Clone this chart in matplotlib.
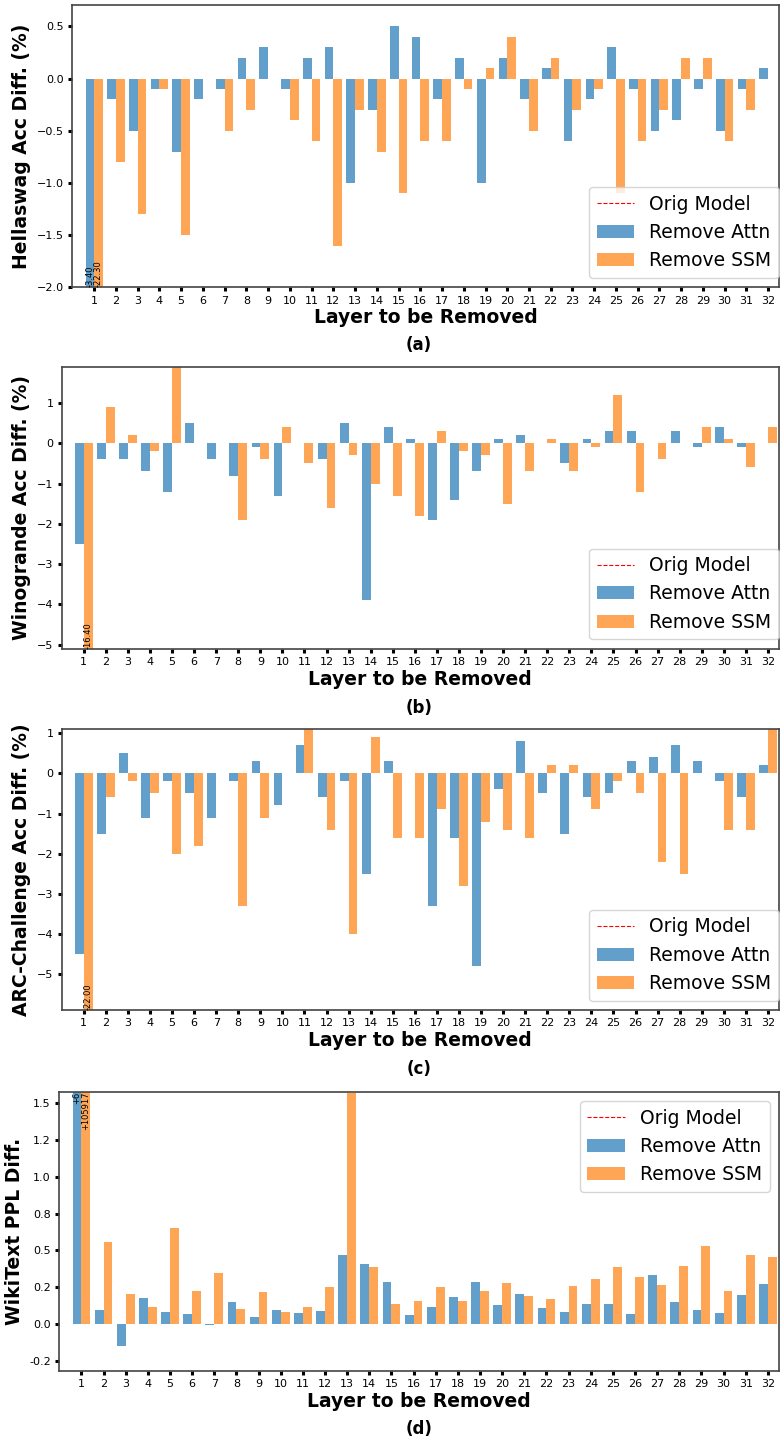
import numpy as np
import matplotlib
matplotlib.use("Agg")
import matplotlib.pyplot as plt
from matplotlib.ticker import MultipleLocator, FormatStrFormatter

layers = list(range(1, 33))

# Hellaswag acc diff (%)
hs_attn = [-3.40, -0.2, -0.5, -0.1, -0.7, -0.2, -0.1, 0.2, 0.3, -0.1, 0.2, 0.3, -1.0, -0.3, 0.5, 0.4,
           -0.2, 0.2, -1.0, 0.2, -0.2, 0.1, -0.6, -0.2, 0.3, -0.1, -0.5, -0.4, -0.1, -0.5, -0.1, 0.1]
hs_ssm = [-22.30, -0.8, -1.3, -0.1, -1.5, 0.0, -0.5, -0.3, 0.0, -0.4, -0.6, -1.6, -0.3, -0.7, -1.1, -0.6,
          -0.6, -0.1, 0.1, 0.4, -0.5, 0.2, -0.3, -0.1, -1.1, -0.6, -0.3, 0.2, 0.2, -0.6, -0.3, 0.0]

# Winogrande acc diff (%)
wg_attn = [-2.5, -0.4, -0.4, -0.7, -1.2, 0.5, -0.4, -0.8, -0.1, -1.3, 0.0, -0.4, 0.5, -3.9, 0.4, 0.1,
           -1.9, -1.4, -0.7, 0.1, 0.2, 0.0, -0.5, 0.1, 0.3, 0.3, 0.0, 0.3, -0.1, 0.4, -0.1, 0.0]
wg_ssm = [-16.40, 0.9, 0.2, -0.2, 2.0, 0.0, 0.0, -1.9, -0.4, 0.4, -0.5, -1.6, -0.3, -1.0, -1.3, -1.8,
          0.3, -0.2, -0.3, -1.5, -0.7, 0.1, -0.7, -0.1, 1.2, -1.2, -0.4, 0.0, 0.4, 0.1, -0.6, 0.4]

# ARC-Challenge acc diff (%)
arc_attn = [-4.5, -1.5, 0.5, -1.1, -0.2, -0.5, -1.1, -0.2, 0.3, -0.8, 0.7, -0.6, -0.2, -2.5, 0.3, 0.0,
            -3.3, -1.6, -4.8, -0.4, 0.8, -0.5, -1.5, -0.6, -0.5, 0.3, 0.4, 0.7, 0.3, -0.2, -0.6, 0.2]
arc_ssm = [-22.00, -0.6, -0.2, -0.5, -2.0, -1.8, 0.0, -3.3, -1.1, 0.0, 1.2, -1.4, -4.0, 0.9, -1.6, -1.6,
           -0.9, -2.8, -1.2, -1.4, -1.6, 0.2, 0.2, -0.9, -0.2, -0.5, -2.2, -2.5, 0.0, -1.4, -1.4, 1.2]

# WikiText PPL diff
ppl_attn = [6, 0.097, -0.152, 0.179, 0.084, 0.070, -0.005, 0.152, 0.050, 0.097, 0.077, 0.090, 0.471, 0.410,
            0.287, 0.063, 0.118, 0.186, 0.287, 0.131, 0.206, 0.111, 0.084, 0.138, 0.138, 0.070, 0.335,
            0.152, 0.097, 0.077, 0.199, 0.274]
ppl_ssm = [105917, 0.559, 0.206, 0.118, 0.654, 0.226, 0.348, 0.104, 0.219, 0.084, 0.118, 0.253, 1.57, 0.389,
           0.138, 0.158, 0.253, 0.158, 0.226, 0.281, 0.192, 0.172, 0.260, 0.308, 0.389, 0.321, 0.267,
           0.396, 0.532, 0.226, 0.471, 0.457]

fig = plt.figure(figsize=(7.8, 14.41), dpi=100)

panels = [
    # data_attn, data_ssm, ylabel, ylim, axes rect, legend loc, caption, caption y(px)
    (hs_attn, hs_ssm, "Hellaswag Acc Diff. (%)", (-2.0, 0.7), [0.0929, 0.8006, 0.9058, 0.1956], "lower right", "(a)", 345),
    (wg_attn, wg_ssm, "Winogrande Acc Diff. (%)", (-5.1, 1.9), [0.0791, 0.5498, 0.9196, 0.1957], "lower right", "(b)", 708),
    (arc_attn, arc_ssm, "ARC-Challenge Acc Diff. (%)", (-5.9, 1.1), [0.0791, 0.2991, 0.9196, 0.1948], "lower right", "(c)", 1069),
    (ppl_attn, ppl_ssm, "WikiText PPL Diff.", (-0.32, 1.58), [0.0760, 0.0486, 0.9227, 0.1938], "upper right", "(d)", 1429),
]

x = np.array(layers)
w = 0.4
for attn, ssm, ylab, ylim, rect, loc, cap, cap_y in panels:
    ax = fig.add_axes(rect)
    ax.plot([], [], color="red", linestyle="--", lw=0.8, label="Orig Model")
    ax.bar(x - w / 2, attn, w, color="tab:blue", alpha=0.7, label="Remove Attn")
    ax.bar(x + w / 2, ssm, w, color="tab:orange", alpha=0.7, label="Remove SSM")
    ax.set_xlim(0, 32.5)
    ax.set_ylim(*ylim)
    ax.set_xticks(x)
    ax.set_xticklabels([str(l) for l in layers])
    ax.tick_params(axis="both", labelsize=8, length=3, width=2.2, pad=3)
    ax.set_xlabel("Layer to be Removed", fontsize=13.5, fontweight="bold", labelpad=2)
    ax.set_ylabel(ylab, fontsize=13.5, fontweight="bold")
    for sp in ax.spines.values():
        sp.set_color("#444444")
        sp.set_linewidth(1.2)

    # label bars that run off the axes
    lo, hi = ylim
    for xs, vals in ((x - w / 2, attn), (x + w / 2, ssm)):
        for xi, v in zip(xs, vals):
            if v < lo:
                ax.text(xi, lo, f"{v:.2f}", rotation=90, ha="center", va="bottom", fontsize=6)
            elif v > 2:
                ax.text(xi, hi, f"+{v:.0f}", rotation=90, ha="center", va="top", fontsize=6)

    if cap == "(d)":
        ax.yaxis.set_major_locator(MultipleLocator(0.25))
        ax.yaxis.set_major_formatter(FormatStrFormatter("%.1f"))
        ax.legend(loc=loc, fontsize=13.5)
    else:
        ax.yaxis.set_major_locator(MultipleLocator(0.5 if cap == "(a)" else 1))
        ax.legend(loc=loc, fontsize=13.5, bbox_to_anchor=(1.013, 0.0))

    fig.text(419 / 780, 1 - cap_y / 1441, cap, ha="center", va="center", fontsize=12, fontweight="bold")

fig.savefig("out.png", dpi=100)
